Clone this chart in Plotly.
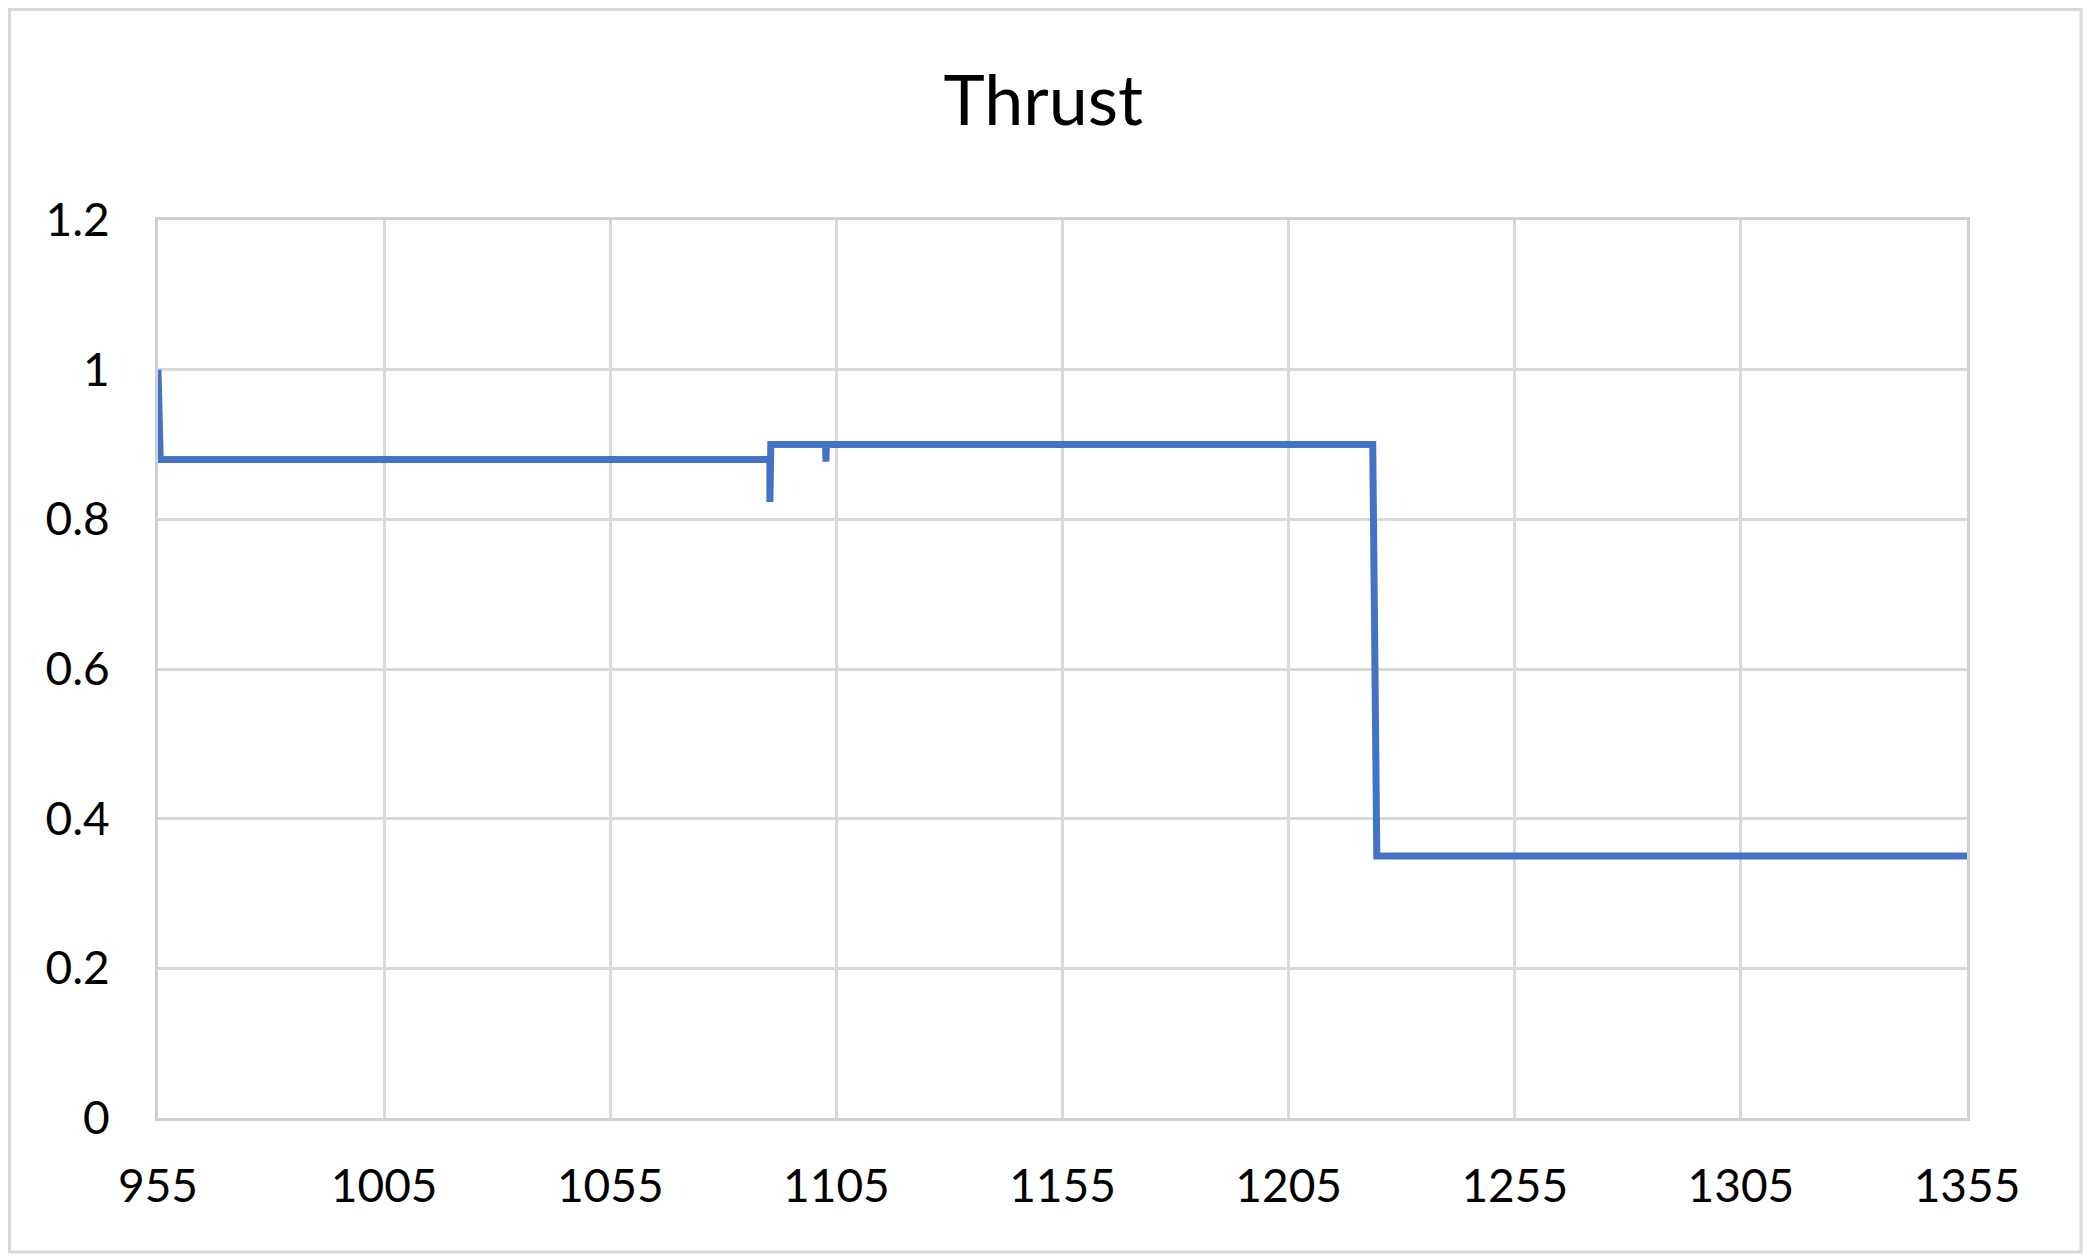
import plotly.graph_objects as go

# step profile
time_s = [955, 955.5, 1090.3, 1090.3, 1090.5, 1102.6, 1102.7, 1102.8, 1223.6, 1224.5, 1355]
thrust = [1.0, 0.88, 0.88, 0.823, 0.90, 0.90, 0.877, 0.90, 0.90, 0.35, 0.35]

x_ticks = [955, 1005, 1055, 1105, 1155, 1205, 1255, 1305, 1355]
y_ticks = [0, 0.2, 0.4, 0.6, 0.8, 1.0, 1.2]
y_labels = ["0", "0.2", "0.4", "0.6", "0.8", "1", "1.2"]

# page body adds an 8px margin, so the figure is 8px smaller each way
W, H = 2083, 1252
L, R, T, B = 150, 124, 212, 142
pw, ph = W - L - R, H - T - B
GRID = "#d9d9d9"

fig = go.Figure()
fig.add_trace(go.Scatter(
    x=time_s, y=thrust, mode="lines",
    line=dict(color="#4472C4", width=7),
    hoverinfo="skip", showlegend=False,
))

fig.update_layout(
    width=W, height=H,
    margin=dict(l=L, r=R, t=T, b=B),
    paper_bgcolor="white", plot_bgcolor="white",
    font=dict(family="Lato, Open Sans, sans-serif", color="#000000"),
    title=dict(text="Thrust", x=0.497, xref="container", xanchor="center",
               y=1 - 92 / H, yref="container", yanchor="middle",
               font=dict(size=70, color="#000000")),
    showlegend=False,
)

fig.update_xaxes(
    range=[955, 1355], tickvals=x_ticks, ticktext=[str(v) for v in x_ticks],
    showgrid=True, gridcolor=GRID, gridwidth=3,
    showline=True, linecolor="#d0d0d0", linewidth=3, mirror=True,
    zeroline=False, ticks="outside", ticklen=26, tickcolor="rgba(0,0,0,0)",
    tickfont=dict(size=46),
)
fig.update_yaxes(
    range=[0, 1.2], tickvals=y_ticks, ticktext=y_labels,
    showgrid=True, gridcolor=GRID, gridwidth=3,
    showline=True, linecolor="#d0d0d0", linewidth=3, mirror=True,
    zeroline=False, ticks="outside", ticklen=36, tickcolor="rgba(0,0,0,0)",
    tickfont=dict(size=46),
)

# light grey frame round the whole chart
fig.add_shape(
    type="rect", xref="paper", yref="paper",
    x0=(1.5 - L) / pw, x1=(W - 10 - L) / pw,
    y0=-(B - 8) / ph, y1=(H - 1.5 - B) / ph,
    line=dict(color="#d9d9d9", width=3), fillcolor="rgba(0,0,0,0)",
    layer="below",
)

fig.write_html("out.html")
